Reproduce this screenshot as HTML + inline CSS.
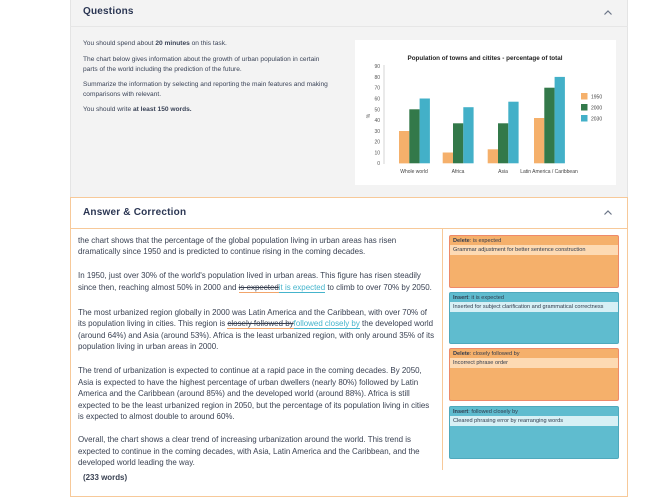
<!DOCTYPE html>
<html><head><meta charset="utf-8"><style>
*{margin:0;padding:0;box-sizing:border-box}
body{width:668px;height:491px;background:#fff;position:relative;overflow:hidden;font-family:"Liberation Sans",Arial,sans-serif;color:#333c4e}
.abs{position:absolute}
.q{left:70px;top:0;width:558px;height:198px;background:#f3f3f3;border-left:1px solid #e4e4e4;border-right:1px solid #e4e4e4}
.qh{left:70px;top:0;width:558px;height:27px;border-bottom:1.5px solid #e6e6e6}
.h{font-weight:bold;font-size:10px;color:#2b3653;letter-spacing:0.2px}
.qt{font-size:6.6px;color:#3b4458;white-space:nowrap}
.ans{left:70px;top:197px;width:558px;height:300px;border:1px solid #f7c999;background:#fff}
.ahb{left:70px;top:228px;width:558px;height:1px;background:#f7c999}
.t{position:absolute;left:78px;font-size:7.95px;white-space:nowrap;color:#3a4253;line-height:10px}
.del{text-decoration:line-through;border-bottom:1px solid #f2a56b}
.ins{color:#45b4cc;border-bottom:1px solid #45b4cc}
.card{position:absolute;left:449px;width:170px;border-radius:2px;font-size:5.6px;color:#2f3a4c}
.card .a{padding:2px 3px;height:9px}
.card .b{padding:2px 3px;height:10px}
.o{background:#f5b06b;border:1px solid #ee8a6a}
.o .b{background:#fddab3}
.c{background:#5fbccf;border:1px solid #4fa9bd}
.c .b{background:#d7f0f5}
</style></head><body>
<div class="abs q"></div>
<div class="abs qh"></div>
<div class="abs h" style="left:83px;top:6px">Questions</div>
<svg class="abs" style="left:603px;top:9px" width="10" height="7"><path d="M1.5 5.5 L5 2 L8.5 5.5" stroke="#6a7486" stroke-width="1.2" fill="none"/></svg>
<div class="abs qt" style="left:83px;top:40px">You should spend about <b>20 minutes</b> on this task.</div>
<div class="abs qt" style="left:83px;top:56px">The chart below gives information about the growth of urban population in certain</div>
<div class="abs qt" style="left:83px;top:66px">parts of the world including the prediction of the future.</div>
<div class="abs qt" style="left:83px;top:81px">Summarize the information by selecting and reporting the main features and making</div>
<div class="abs qt" style="left:83px;top:91px">comparisons with relevant.</div>
<div class="abs qt" style="left:83px;top:106px">You should write <b>at least 150 words.</b></div>

<svg class="abs" style="left:0;top:0" width="668" height="200">
<rect x="355" y="40" width="261" height="145" fill="#fff"/>
<text x="485" y="60" font-size="6.3" font-weight="bold" text-anchor="middle" fill="#222" font-family="Liberation Sans">Population of towns and citites - percentage of total</text>
<line x1="384" y1="65" x2="384" y2="164" stroke="#ccc" stroke-width="0.8"/>
<g font-size="5" fill="#555" text-anchor="end" font-family="Liberation Sans">
<text x="380" y="165">0</text><text x="380" y="154.5">10</text><text x="380" y="143.7">20</text><text x="380" y="133">30</text><text x="380" y="122">40</text><text x="380" y="111.3">50</text><text x="380" y="100.5">60</text><text x="380" y="89.7">70</text><text x="380" y="78.9">80</text><text x="380" y="68">90</text>
</g>
<text x="370" y="116" font-size="5" fill="#555" transform="rotate(-90 370 116)" text-anchor="middle">%</text>
<g>
<rect x="399" y="131" width="10.3" height="32.4" fill="#f5b06b"/><rect x="409.3" y="109.3" width="10.3" height="54" fill="#33794a"/><rect x="419.6" y="98.5" width="10.3" height="64.8" fill="#43b0c8"/>
<rect x="442.7" y="152.5" width="10.3" height="10.8" fill="#f5b06b"/><rect x="453" y="123.3" width="10.3" height="40" fill="#33794a"/><rect x="463.3" y="107.2" width="10.3" height="56.1" fill="#43b0c8"/>
<rect x="487.7" y="149.3" width="10.3" height="14" fill="#f5b06b"/><rect x="498" y="123.3" width="10.3" height="40" fill="#33794a"/><rect x="508.3" y="101.7" width="10.3" height="61.6" fill="#43b0c8"/>
<rect x="534" y="118" width="10.3" height="45.3" fill="#f5b06b"/><rect x="544.3" y="87.7" width="10.3" height="75.6" fill="#33794a"/><rect x="554.6" y="76.9" width="10.3" height="86.4" fill="#43b0c8"/>
</g>
<g font-size="5" fill="#444" text-anchor="middle" font-family="Liberation Sans">
<text x="414" y="173">Whole world</text><text x="458" y="173">Africa</text><text x="503" y="173">Asia</text><text x="549" y="173">Latin America / Caribbean</text>
</g>
<rect x="581" y="93" width="6.5" height="6.5" fill="#f5b06b"/><rect x="581" y="104" width="6.5" height="6.5" fill="#33794a"/><rect x="581" y="115" width="6.5" height="6.5" fill="#43b0c8"/>
<g font-size="5" fill="#444" font-family="Liberation Sans"><text x="591" y="98.5">1950</text><text x="591" y="109.5">2000</text><text x="591" y="120.5">2030</text></g>
</svg>

<div class="abs ans"></div>
<div class="abs ahb"></div>
<div class="abs h" style="left:83px;top:207px">Answer &amp; Correction</div>
<svg class="abs" style="left:603px;top:209px" width="10" height="7"><path d="M1.5 5.5 L5 2 L8.5 5.5" stroke="#6a7486" stroke-width="1.2" fill="none"/></svg>
<div class="abs" style="left:441.5px;top:229px;width:1px;height:241px;background:#f7c999"></div>

<div class="t" style="top:236px">the chart shows that the percentage of the global population living in urban areas has risen</div>
<div class="t" style="top:247px">dramatically since 1950 and is predicted to continue rising in the coming decades.</div>
<div class="t" style="top:271px">In 1950, just over 30% of the world's population lived in urban areas. This figure has risen steadily</div>
<div class="t" style="top:283px">since then, reaching almost 50% in 2000 and <span class="del">is expected</span><span class="ins">it is expected</span> to climb to over 70% by 2050.</div>
<div class="t" style="top:308px">The most urbanized region globally in 2000 was Latin America and the Caribbean, with over 70% of</div>
<div class="t" style="top:319px">its population living in cities. This region is <span class="del">closely followed by</span><span class="ins">followed closely by</span> the developed world</div>
<div class="t" style="top:331px">(around 64%) and Asia (around 53%). Africa is the least urbanized region, with only around 35% of its</div>
<div class="t" style="top:342px">population living in urban areas in 2000.</div>
<div class="t" style="top:366px">The trend of urbanization is expected to continue at a rapid pace in the coming decades. By 2050,</div>
<div class="t" style="top:378px">Asia is expected to have the highest percentage of urban dwellers (nearly 80%) followed by Latin</div>
<div class="t" style="top:389px">America and the Caribbean (around 85%) and the developed world (around 88%). Africa is still</div>
<div class="t" style="top:401px">expected to be the least urbanized region in 2050, but the percentage of its population living in cities</div>
<div class="t" style="top:412px">is expected to almost double to around 60%.</div>
<div class="t" style="top:435px">Overall, the chart shows a clear trend of increasing urbanization around the world. This trend is</div>
<div class="t" style="top:447px">expected to continue in the coming decades, with Asia, Latin America and the Caribbean, and the</div>
<div class="t" style="top:458px">developed world leading the way.</div>
<div class="t" style="top:473px;left:83px;font-weight:bold">(233 words)</div>

<div class="card o" style="top:235px;height:53px"><div class="a"><b>Delete</b>: is expected</div><div class="b">Grammar adjustment for better sentence construction</div></div>
<div class="card c" style="top:292px;height:52px"><div class="a"><b>Insert</b>: it is expected</div><div class="b">Inserted for subject clarification and grammatical correctness</div></div>
<div class="card o" style="top:348px;height:53px"><div class="a"><b>Delete</b>: closely followed by</div><div class="b">Incorrect phrase order</div></div>
<div class="card c" style="top:406px;height:53px"><div class="a"><b>Insert</b>: followed closely by</div><div class="b">Cleared phrasing error by rearranging words</div></div>
</body></html>
